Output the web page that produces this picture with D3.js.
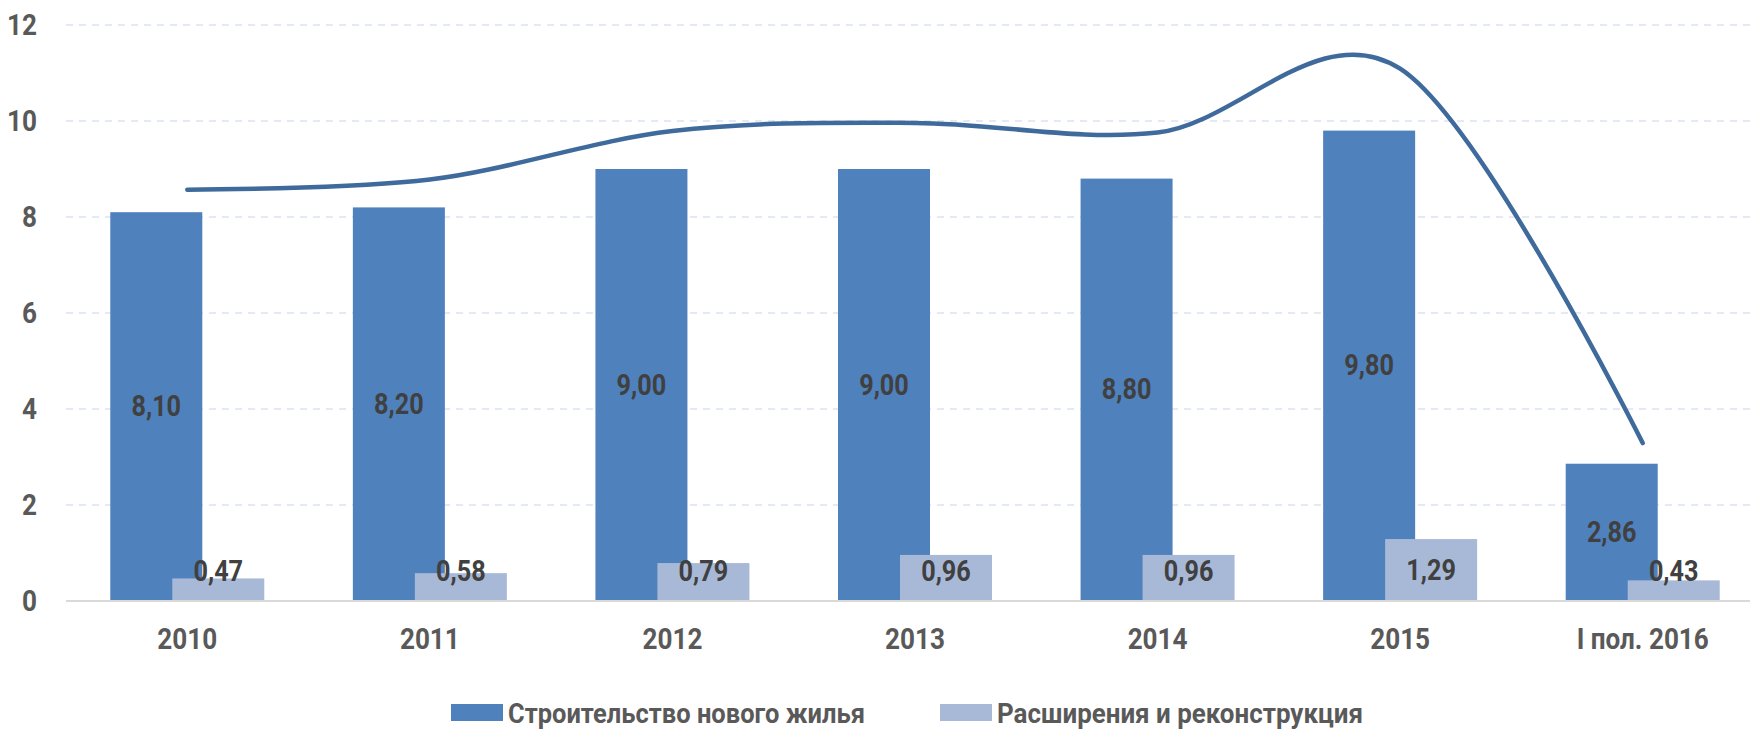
<!DOCTYPE html>
<html>
<head>
<meta charset="utf-8">
<script src="https://cdn.jsdelivr.net/npm/d3@7"></script>
<style>
  body { margin: 0; background: #fff; }
  svg { display: block; font-family: Roboto, "DejaVu Sans Condensed", sans-serif; font-weight: bold; }
</style>
</head>
<body>
<svg></svg>
<script>
const categories = ['2010', '2011', '2012', '2013', '2014', '2015', 'I пол. 2016'];
const seriesNames = ['Строительство нового жилья', 'Расширения и реконструкция'];
const newHousing = [8.10, 8.20, 9.00, 9.00, 8.80, 9.80, 2.86];
const reconstruction = [0.47, 0.58, 0.79, 0.96, 0.96, 1.29, 0.43];
const yTicks = [0, 2, 4, 6, 8, 10, 12];
const colors = ['#4F81BD', '#A8B9D7'];

const [svgWidth, svgHeight] = [1750, 732];
const barWidth = 92;
const sx = 0.87; // squeeze text to look condensed
const svg = d3.select('svg')
  .attr('width', svgWidth)
  .attr('height', svgHeight);

const x = d3.scaleBand()
  .domain(categories)
  .range([66, 1764]);
const xSub = d3.scalePoint()
  .domain(seriesNames)
  .range([-31, 31]);
const y = d3.scaleLinear()
  .domain([0, 12])
  .range([601, 25]);

const fmt = v => d3.format('.2f')(v).replace('.', ',');
const cx = c => x(c) + x.bandwidth() / 2;
const place = (px, py) => `translate(${px}, ${py}) scale(${sx}, 1)`;

// gridlines
svg.append('g')
  .selectAll('line')
  .data(yTicks.filter(d => d > 0))
  .join('line')
  .attr('x1', 66)
  .attr('x2', svgWidth)
  .attr('y1', d => y(d))
  .attr('y2', d => y(d))
  .attr('stroke', '#E3EAF4')
  .attr('stroke-width', 2)
  .attr('stroke-dasharray', '7,6');

// y labels
svg.append('g')
  .selectAll('text')
  .data(yTicks)
  .join('text')
  .attr('transform', d => place(37, y(d)))
  .attr('text-anchor', 'end')
  .attr('dominant-baseline', 'central')
  .attr('font-size', 30)
  .attr('fill', '#595959')
  .text(d => d);

const rows = categories.map((c, i) => ({
  cat: c,
  vals: [newHousing[i], reconstruction[i]],
  total: newHousing[i] + reconstruction[i]
}));

const groups = svg.append('g')
  .selectAll('g')
  .data(rows)
  .join('g')
  .attr('transform', d => `translate(${cx(d.cat)}, 0)`);

groups.selectAll('rect')
  .data(d => d.vals.map((v, k) => ({ v, name: seriesNames[k], k })))
  .join('rect')
  .attr('x', d => xSub(d.name) - barWidth / 2)
  .attr('width', barWidth)
  .attr('y', d => y(d.v))
  .attr('height', d => y(0) - y(d.v))
  .attr('fill', d => colors[d.k]);

// axis line
svg.append('line')
  .attr('x1', 66)
  .attr('x2', svgWidth)
  .attr('y1', y(0))
  .attr('y2', y(0))
  .attr('stroke', '#D9D9D9')
  .attr('stroke-width', 2);

// data labels
groups.selectAll('text.val')
  .data(d => d.vals.map((v, k) => ({ v, name: seriesNames[k], k })))
  .join('text')
  .attr('class', 'val')
  .attr('transform', d => place(xSub(d.name), Math.min((y(d.v) + y(0)) / 2, y(0) - 30)))
  .attr('text-anchor', 'middle')
  .attr('dominant-baseline', 'central')
  .attr('font-size', 29)
  .attr('fill', '#404040')
  .text(d => fmt(d.v));

// category labels
groups.append('text')
  .attr('transform', place(0, 639))
  .attr('text-anchor', 'middle')
  .attr('dominant-baseline', 'central')
  .attr('font-size', 30)
  .attr('fill', '#595959')
  .text(d => d.cat);

// total line
const line = d3.line()
  .x(d => cx(d.cat))
  .y(d => y(d.total))
  .curve(d3.curveCardinal.tension(0));
svg.append('path')
  .datum(rows)
  .attr('d', line)
  .attr('fill', 'none')
  .attr('stroke', '#3F6A9C')
  .attr('stroke-width', 4.5)
  .attr('stroke-linecap', 'round');

// legend
const legendItems = [
  { name: seriesNames[0], color: colors[0], x: 451, w: 357 },
  { name: seriesNames[1], color: colors[1], x: 940, w: 366 }
];
const legend = svg.append('g')
  .selectAll('g')
  .data(legendItems)
  .join('g')
  .attr('transform', d => `translate(${d.x}, 704)`);
legend.append('rect')
  .attr('width', 52)
  .attr('height', 17)
  .attr('fill', d => d.color);
legend.append('text')
  .attr('x', 57)
  .attr('y', 19)
  .attr('font-size', 28)
  .attr('fill', '#595959')
  .attr('textLength', d => d.w)
  .attr('lengthAdjust', 'spacingAndGlyphs')
  .text(d => d.name);
</script>
</body>
</html>
